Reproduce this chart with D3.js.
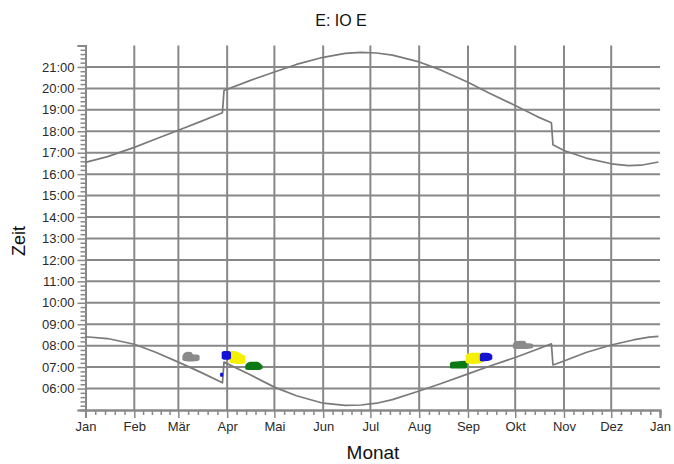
<!DOCTYPE html>
<html><head><meta charset="utf-8">
<script src="https://cdn.jsdelivr.net/npm/d3@7"></script>
<style>
html,body{margin:0;padding:0;background:#fff;}
svg{display:block;font-family:"Liberation Sans",Arial,sans-serif;}
</style></head>
<body>
<svg id="chart" width="674" height="464"></svg>
<script>
const YEAR = 2014;
const monthLabels = ["Jan","Feb","Mär","Apr","Mai","Jun","Jul","Aug","Sep","Okt","Nov","Dez","Jan"];
const hourTicks = [6,7,8,9,10,11,12,13,14,15,16,17,18,19,20,21];

// sunset (upper curve), date MM-DD, local time
const sunset = [
 ["01-01","16:33"],["01-15","16:49"],["02-01","17:15"],["02-15","17:39"],
 ["03-01","18:03"],["03-15","18:27"],["03-29","18:52"],["03-30","19:54"],
 ["04-15","20:21"],["05-01","20:46"],["05-15","21:07"],["06-01","21:27"],
 ["06-15","21:38"],["06-25","21:41"],["07-05","21:39"],["07-15","21:33"],
 ["08-01","21:14"],["08-15","20:51"],["09-01","20:17"],["09-15","19:46"],
 ["10-01","19:12"],["10-15","18:41"],["10-24","18:24"],["10-25","17:22"],
 ["11-01","17:06"],["11-15","16:45"],["12-01","16:29"],["12-12","16:24"],
 ["12-20","16:25"],["12-31","16:34"]
];
// sunrise (lower curve)
const sunrise = [
 ["01-01","08:25"],["01-15","08:20"],["02-01","08:04"],["02-15","07:41"],
 ["03-01","07:14"],["03-15","06:46"],["03-29","06:16"],["03-30","07:14"],
 ["04-15","06:40"],["05-01","06:04"],["05-15","05:40"],["06-01","05:19"],
 ["06-15","05:13"],["06-25","05:14"],["07-05","05:19"],["07-15","05:29"],
 ["08-01","05:53"],["08-15","06:14"],["09-01","06:41"],["09-15","07:03"],
 ["10-01","07:27"],["10-15","07:50"],["10-24","08:05"],["10-25","07:06"],
 ["11-01","07:17"],["11-15","07:41"],["12-01","08:02"],["12-15","08:16"],
 ["12-25","08:24"],["12-31","08:26"]
];

// event clusters: [date, from, to]
const grayMar = [["03-04","07:21","07:31"],["03-05","07:19","07:38"],["03-07","07:18","07:41"],["03-09","07:18","07:40"],["03-10","07:18","07:34"],["03-13","07:19","07:33"],["03-14","07:21","07:31"]];
const blueDot = [["03-28","06:35","06:42"],["03-29","06:35","06:42"]];
const yellowApr = [["04-03","07:14","07:42"],["04-05","07:12","07:43"],["04-08","07:11","07:40"],["04-10","07:11","07:35"],["04-12","07:13","07:30"]];
const blueApr = [["03-29","07:25","07:41"],["03-30","07:23","07:43"],["04-02","07:23","07:43"],["04-03","07:25","07:40"]];
const greenApr = [["04-13","06:55","07:05"],["04-14","06:54","07:10"],["04-16","06:54","07:13"],["04-20","06:54","07:13"],["04-22","06:55","07:08"],["04-23","06:57","07:03"]];
const greenAug = [["08-21","06:59","07:10"],["08-22","06:58","07:13"],["08-26","06:58","07:14"],["08-30","06:58","07:16"],["08-31","07:00","07:12"]];
const yellowSep = [["08-31","07:14","07:32"],["09-01","07:12","07:36"],["09-04","07:11","07:38"],["09-08","07:12","07:38"],["09-10","07:16","07:33"]];
const blueSep = [["09-09","07:19","07:34"],["09-10","07:18","07:38"],["09-13","07:19","07:38"],["09-15","07:21","07:36"],["09-16","07:24","07:32"]];
const graySep = [["09-30","07:54","08:04"],["10-01","07:53","08:10"],["10-04","07:53","08:12"],["10-07","07:53","08:11"],["10-08","07:53","08:05"],["10-11","07:54","08:04"],["10-12","07:56","08:02"]];

const clusters = [
 {data: grayMar, color:"#8a8a8a"},
 {data: yellowApr, color:"#f4f000"},
 {data: blueApr, color:"#1414d2"},
 {data: blueDot, color:"#1414d2"},
 {data: greenApr, color:"#0c7a14"},
 {data: greenAug, color:"#0c7a14"},
 {data: yellowSep, color:"#f4f000"},
 {data: blueSep, color:"#1414d2"},
 {data: graySep, color:"#8a8a8a"}
];

const parseD = s => { const [m,d] = s.split("-").map(Number); return new Date(YEAR, m-1, d); };
const parseT = s => { const [h,m] = s.split(":").map(Number); return h + m/60; };

const svg = d3.select("#chart");
const x = d3.scaleTime().domain([new Date(YEAR,0,1), new Date(YEAR+1,0,1)]).range([85.5, 660]);
const y = d3.scaleLinear().domain([5,22]).range([410, 45.5]);
const gridCol = "#888";
const textCol = "#2a2a2a";

// grid
const monthDates = d3.range(13).map(i => new Date(YEAR, i, 1));
svg.append("g").selectAll("line").data(hourTicks).join("line")
  .attr("x1", x.range()[0]).attr("x2", x.range()[1])
  .attr("y1", d => y(d)).attr("y2", d => y(d))
  .attr("stroke", gridCol).attr("stroke-width", 2);
svg.append("g").selectAll("line").data(monthDates.slice(1,12)).join("line")
  .attr("x1", d => x(d)).attr("x2", d => x(d))
  .attr("y1", y(5)).attr("y2", y(22))
  .attr("stroke", gridCol).attr("stroke-width", 2);

// x axis
const xMinor = [];
for (let i = 0; i < 12; i++) {
  const a = monthDates[i].getTime(), b = monthDates[i+1].getTime();
  for (let k = 1; k < 5; k++) xMinor.push(new Date(a + (b-a)*k/5));
}
const xAxisMinor = d3.axisBottom(x).tickValues(xMinor).tickSize(5).tickFormat("");
const xAxis = d3.axisBottom(x).tickValues(monthDates).tickSize(8).tickPadding(4)
  .tickFormat((d,i) => monthLabels[i]);
const gxm = svg.append("g").attr("transform", `translate(0,${y(5)})`).call(xAxisMinor);
const gx = svg.append("g").attr("transform", `translate(0,${y(5)})`).call(xAxis);
// y axis
const yMinor = [];
for (let h = 5; h < 22; h++) for (let k = 1; k < 5; k++) yMinor.push(h + k/5);
const yAxisMinor = d3.axisLeft(y).tickValues(yMinor).tickSize(5).tickFormat("");
const yAxis = d3.axisLeft(y).tickValues([5, ...hourTicks, 22]).tickSize(8).tickPadding(3)
  .tickFormat(d => (d === 5 || d === 22) ? "" : String(d).padStart(2,"0") + ":00");
const gym = svg.append("g").attr("transform", `translate(${x.range()[0]},0)`).call(yAxisMinor);
const gy = svg.append("g").attr("transform", `translate(${x.range()[0]},0)`).call(yAxis);

[gxm, gx, gym, gy].forEach(g => {
  g.select(".domain").attr("stroke", gridCol).attr("stroke-width", 2);
  g.selectAll(".tick line").attr("stroke", gridCol).attr("stroke-width", 1.5);
  g.selectAll(".tick text").attr("fill", textCol).attr("font-size", 13)
    .attr("font-family", "'Liberation Sans',Arial,sans-serif");
});

// sun curves
const line = d3.line().x(d => x(parseD(d[0]))).y(d => y(parseT(d[1])));
[sunset, sunrise].forEach(s => {
  svg.append("path").datum(s).attr("d", line)
    .attr("fill", "none").attr("stroke", "#7a7a7a").attr("stroke-width", 1.7)
    .attr("stroke-linejoin", "round");
});

// clusters
const area = d3.area()
  .x(d => x(parseD(d[0])))
  .y0(d => y(parseT(d[1])))
  .y1(d => y(parseT(d[2])))
  .curve(d3.curveMonotoneX);
clusters.forEach(c => {
  svg.append("path").datum(c.data).attr("d", area)
    .attr("fill", c.color).attr("stroke", c.color).attr("stroke-width", 1.5)
    .attr("stroke-linejoin", "round");
});

// titles
svg.append("text").attr("x", 341).attr("y", 26).attr("text-anchor", "middle")
  .attr("font-size", 16).attr("fill", "#111").text("E: IO E");
svg.append("text").attr("transform", "translate(25,241) rotate(-90)").attr("text-anchor", "middle")
  .attr("font-size", 18).attr("fill", "#111").text("Zeit");
svg.append("text").attr("x", 373).attr("y", 459).attr("text-anchor", "middle")
  .attr("font-size", 19).attr("fill", "#111").text("Monat");
</script>
</body></html>
